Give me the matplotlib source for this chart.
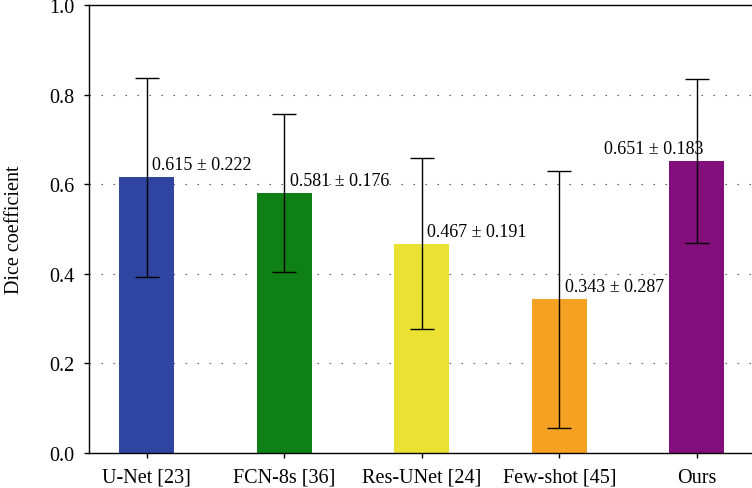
import matplotlib.pyplot as plt

methods = ["U-Net [23]", "FCN-8s [36]", "Res-UNet [24]", "Few-shot [45]", "Ours"]
dice_mean = [0.615, 0.581, 0.467, 0.343, 0.651]
dice_std = [0.222, 0.176, 0.191, 0.287, 0.183]
bar_colors = ["#2F45A1", "#0F8015", "#EAE133", "#F5A122", "#820F7C"]

plt.rcParams["font.family"] = ["Liberation Serif", "DejaVu Serif"]

fig = plt.figure(figsize=(7.52, 4.89), dpi=100)
ax = fig.add_axes([0.1184, 0.0716, 0.8816, 0.9161])

x = list(range(len(methods)))
ax.bar(x, dice_mean, width=0.4, color=bar_colors, zorder=2)
ax.errorbar(x, dice_mean, yerr=dice_std, fmt="none", ecolor="black",
            elinewidth=1, capsize=8.5, capthick=1, zorder=3)

# value labels next to the error bars
for i, (m, s) in enumerate(zip(dice_mean, dice_std)):
    txt = f"{m:.3f} ± {s:.3f}"
    if i == len(methods) - 1:
        ax.text(i + 0.05, m + 0.018, txt, ha="right", va="baseline", fontsize=13, zorder=4)
    else:
        ax.text(i + 0.04, m + 0.018, txt, ha="left", va="baseline", fontsize=13, zorder=4)

ax.set_xlim(-0.42, 4.40)
ax.set_ylim(0, 1.0)
ax.set_xticks(x)
ax.set_xticklabels(methods, fontsize=14.5)
ax.set_yticks([0.0, 0.2, 0.4, 0.6, 0.8, 1.0])
ax.set_yticklabels(["0.0", "0.2", "0.4", "0.6", "0.8", "1.0"], fontsize=14.5)
ax.tick_params(axis="both", length=3.5, width=1, pad=7)
ax.set_ylabel("Dice coefficient", fontsize=14.5, labelpad=18.5)

for yv in [0.2, 0.4, 0.6, 0.8]:
    ax.axhline(yv, color="#444444", linewidth=0.8, linestyle=(0, (1.2, 9.6)), zorder=1)

ax.spines["right"].set_visible(False)
for side in ["left", "top", "bottom"]:
    ax.spines[side].set_linewidth(1)

fig.savefig("out.png", dpi=100)
